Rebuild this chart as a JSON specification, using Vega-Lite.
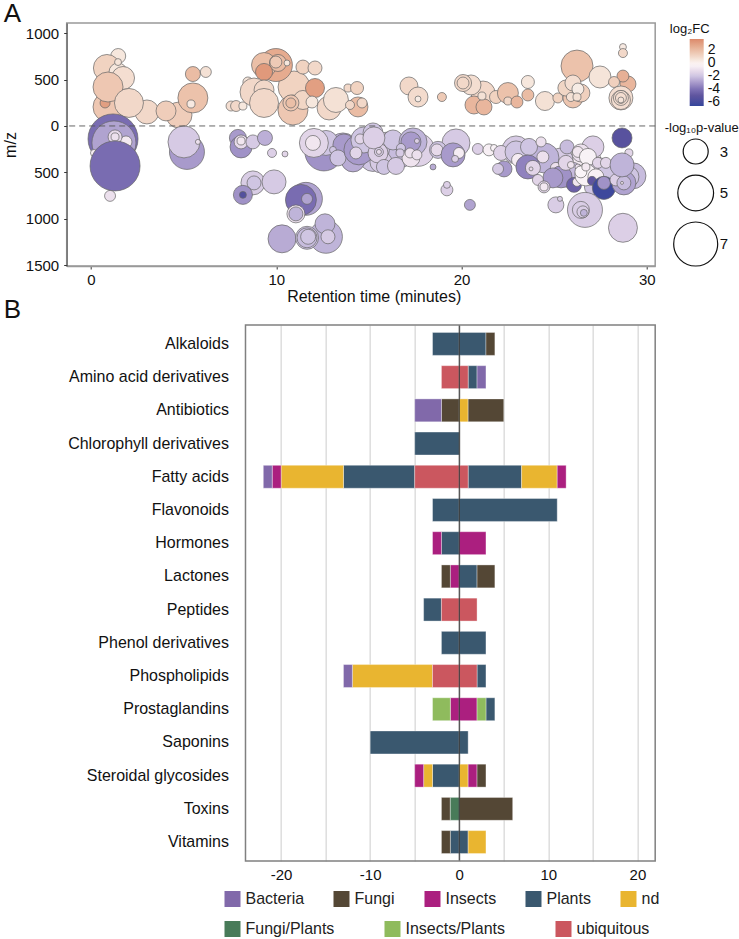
{"$schema":"https://vega.github.io/schema/vega-lite/v6.json","padding":{"left":0.7,"top":0,"right":0,"bottom":0},"spacing":59,"bounds":"flush","background":"white","config":{"font":"Liberation Sans","title":{"font":"Liberation Sans"},"axis":{"labelFont":"Liberation Sans","titleFont":"Liberation Sans"},"legend":{"labelFont":"Liberation Sans","titleFont":"Liberation Sans"}},"vconcat":[{"width":588.5,"height":243,"title":{"text":"A","anchor":"start","frame":"group","dx":-63,"offset":-4,"fontSize":26,"fontWeight":"normal","color":"#111"},"view":{"stroke":"#999","strokeWidth":1.5},"data":{"values":[{"t":1.47,"mz":754,"p":1.78,"fc":0.5},{"t":0.86,"mz":625,"p":3.32,"fc":1.2},{"t":1.46,"mz":582,"p":2.08,"fc":0.5},{"t":1.46,"mz":689,"p":1.24,"fc":0.6},{"t":1.73,"mz":517,"p":2.71,"fc":0.8},{"t":0.92,"mz":205,"p":3.84,"fc":1.6},{"t":0.76,"mz":248,"p":1.4,"fc":3},{"t":0.92,"mz":420,"p":3.84,"fc":1.6},{"t":3.02,"mz":151,"p":2.85,"fc":1},{"t":2.05,"mz":248,"p":3.66,"fc":1},{"t":4.75,"mz":118,"p":3.16,"fc":1.4},{"t":4.05,"mz":162,"p":2.31,"fc":1.4},{"t":5.5,"mz":302,"p":3.84,"fc":1.8},{"t":5.4,"mz":237,"p":1.29,"fc":0.4},{"t":5.5,"mz":560,"p":1.78,"fc":2},{"t":6.2,"mz":582,"p":1.46,"fc":0.7},{"t":10.96,"mz":420,"p":4.22,"fc":1.2},{"t":9.98,"mz":657,"p":4.41,"fc":2.6},{"t":9.34,"mz":657,"p":3,"fc":1.9},{"t":10.09,"mz":679,"p":1.98,"fc":2},{"t":9.98,"mz":689,"p":1.53,"fc":1.5},{"t":9.34,"mz":582,"p":1.98,"fc":3.2},{"t":10.58,"mz":679,"p":1.2,"fc":0.5},{"t":11.44,"mz":635,"p":1.69,"fc":1.2},{"t":12.09,"mz":625,"p":1.69,"fc":1},{"t":8.47,"mz":474,"p":1.4,"fc":0.6},{"t":7.56,"mz":215,"p":1.4,"fc":0.8},{"t":7.83,"mz":215,"p":1.46,"fc":1},{"t":8.2,"mz":215,"p":1.29,"fc":0.5},{"t":8.8,"mz":366,"p":3.48,"fc":1},{"t":9.34,"mz":388,"p":2.31,"fc":1},{"t":10.9,"mz":172,"p":3.84,"fc":1.6},{"t":9.34,"mz":248,"p":3.66,"fc":1},{"t":11.44,"mz":280,"p":2.2,"fc":1.1},{"t":10.79,"mz":248,"p":1.875,"fc":1.6},{"t":10.79,"mz":248,"p":1.4,"fc":1.9},{"t":12.09,"mz":409,"p":2.2,"fc":3},{"t":11.93,"mz":258,"p":1.53,"fc":0.5},{"t":12.85,"mz":194,"p":2.85,"fc":1},{"t":13.22,"mz":280,"p":3,"fc":0.7},{"t":13.87,"mz":409,"p":1.29,"fc":1},{"t":14.36,"mz":409,"p":1.61,"fc":1.2},{"t":14.41,"mz":205,"p":2.31,"fc":2},{"t":13.98,"mz":226,"p":1.34,"fc":1},{"t":14.63,"mz":248,"p":1.4,"fc":1},{"t":17.16,"mz":431,"p":2.08,"fc":1},{"t":17.65,"mz":312,"p":2.31,"fc":0.9},{"t":17.65,"mz":291,"p":1.2,"fc":0.3},{"t":18.94,"mz":312,"p":1.34,"fc":1.5},{"t":21.16,"mz":355,"p":2.85,"fc":1},{"t":20.51,"mz":442,"p":2.31,"fc":0.8},{"t":20.08,"mz":463,"p":1.98,"fc":1},{"t":20.08,"mz":463,"p":1.53,"fc":1},{"t":20.67,"mz":226,"p":2.08,"fc":2.2},{"t":21.21,"mz":205,"p":1.875,"fc":2.2},{"t":21.1,"mz":323,"p":1.29,"fc":0.7},{"t":21.86,"mz":312,"p":1.61,"fc":1.2},{"t":22.5,"mz":355,"p":2.44,"fc":1.8},{"t":22.5,"mz":269,"p":1.29,"fc":1},{"t":22.99,"mz":258,"p":1.53,"fc":2.2},{"t":23.58,"mz":474,"p":1.61,"fc":0.5},{"t":23.58,"mz":334,"p":1.53,"fc":2},{"t":24.5,"mz":269,"p":2.2,"fc":0.7},{"t":25.2,"mz":302,"p":1.4,"fc":1.2},{"t":26.23,"mz":646,"p":4.22,"fc":1.8},{"t":27.47,"mz":528,"p":2.57,"fc":0.6},{"t":26.01,"mz":302,"p":2.31,"fc":1.7},{"t":26.44,"mz":355,"p":2.08,"fc":1.3},{"t":25.63,"mz":409,"p":1.875,"fc":1.1},{"t":26.01,"mz":463,"p":1.875,"fc":0.8},{"t":26.28,"mz":398,"p":1.53,"fc":0.3},{"t":25.9,"mz":312,"p":1.34,"fc":0.7},{"t":26.23,"mz":312,"p":1.29,"fc":0.7},{"t":28.71,"mz":851,"p":1.24,"fc":0.4},{"t":28.71,"mz":786,"p":1.34,"fc":1},{"t":28.98,"mz":452,"p":1.875,"fc":2.2},{"t":28.71,"mz":538,"p":1.53,"fc":2.4},{"t":28.23,"mz":474,"p":1.46,"fc":1.3},{"t":28.6,"mz":302,"p":2.85,"fc":0.8},{"t":28.6,"mz":280,"p":2.2,"fc":0.8},{"t":28.6,"mz":302,"p":1.78,"fc":0.8},{"t":28.6,"mz":302,"p":1.46,"fc":0.8},{"t":28.6,"mz":280,"p":1.2,"fc":0.6},{"t":1.19,"mz":-140,"p":8.72,"fc":-4.2},{"t":1.24,"mz":-183,"p":7,"fc":-2.8},{"t":0.16,"mz":-291,"p":1.24,"fc":-0.6},{"t":1.89,"mz":-172,"p":1.53,"fc":-0.7},{"t":1.3,"mz":-118,"p":1.69,"fc":-1.2},{"t":1.3,"mz":-118,"p":1.29,"fc":-1},{"t":1.3,"mz":-431,"p":8.72,"fc":-4.2},{"t":1.03,"mz":-754,"p":1.46,"fc":-1},{"t":5.18,"mz":-280,"p":4.83,"fc":-3},{"t":5.02,"mz":-172,"p":4.22,"fc":-1.8},{"t":5.77,"mz":-172,"p":1.17,"fc":-1},{"t":7.93,"mz":-129,"p":1.98,"fc":-3},{"t":8.1,"mz":-226,"p":2.57,"fc":-3.2},{"t":8.1,"mz":-172,"p":1.69,"fc":-1.2},{"t":8.1,"mz":-162,"p":1.29,"fc":-0.8},{"t":8.74,"mz":-172,"p":1.69,"fc":-1.8},{"t":9.39,"mz":-129,"p":1.78,"fc":-2.5},{"t":9.77,"mz":-291,"p":1.34,"fc":-1.6},{"t":10.47,"mz":-302,"p":1.2,"fc":-1.4},{"t":8.74,"mz":-614,"p":2.85,"fc":-1.7},{"t":8.8,"mz":-614,"p":1.69,"fc":-2},{"t":9.88,"mz":-603,"p":2.85,"fc":-1.8},{"t":8.2,"mz":-743,"p":2.2,"fc":-3.2},{"t":8.2,"mz":-743,"p":1.24,"fc":-5.5},{"t":11.6,"mz":-786,"p":4.41,"fc":-2.8},{"t":11.33,"mz":-797,"p":4.02,"fc":-4.2},{"t":11.66,"mz":-786,"p":1.46,"fc":-2.8},{"t":11.06,"mz":-948,"p":2.08,"fc":-1},{"t":11.06,"mz":-948,"p":1.69,"fc":-2.4},{"t":10.31,"mz":-1217,"p":3.48,"fc":-2.6},{"t":12.68,"mz":-1195,"p":4.41,"fc":-2.4},{"t":12.63,"mz":-1055,"p":2.31,"fc":-2.4},{"t":12.79,"mz":-1195,"p":1.69,"fc":-1.8},{"t":11.66,"mz":-1206,"p":2.71,"fc":-2},{"t":11.66,"mz":-1206,"p":2.31,"fc":-2.2},{"t":11.72,"mz":-1195,"p":1.78,"fc":-2},{"t":13.6,"mz":-237,"p":3.84,"fc":-2.5},{"t":14.73,"mz":-258,"p":4.41,"fc":-2},{"t":15.22,"mz":-345,"p":3.32,"fc":-2},{"t":16.03,"mz":-226,"p":3.84,"fc":-1.8},{"t":17.65,"mz":-258,"p":4.41,"fc":-1.5},{"t":16.19,"mz":-334,"p":2.71,"fc":-2},{"t":16.73,"mz":-312,"p":3,"fc":-2.2},{"t":14.14,"mz":-366,"p":2.85,"fc":-2.6},{"t":15.65,"mz":-388,"p":2.57,"fc":-1.8},{"t":17,"mz":-205,"p":2.57,"fc":-2.2},{"t":12.57,"mz":-280,"p":5.5,"fc":-3.2},{"t":12.68,"mz":-183,"p":3,"fc":-2},{"t":12.03,"mz":-183,"p":3.66,"fc":-1.4},{"t":11.98,"mz":-183,"p":1.78,"fc":-0.8},{"t":13.65,"mz":-205,"p":2.57,"fc":-3},{"t":13.06,"mz":-258,"p":1.24,"fc":-2},{"t":13.33,"mz":-345,"p":1.875,"fc":-2},{"t":14.46,"mz":-258,"p":3.84,"fc":-3},{"t":14.73,"mz":-151,"p":3.16,"fc":-2},{"t":14.3,"mz":-291,"p":1.53,"fc":-1.4},{"t":15.22,"mz":-75,"p":2.31,"fc":-2},{"t":14.52,"mz":-140,"p":1.4,"fc":-1.4},{"t":16.3,"mz":-151,"p":2.31,"fc":-2},{"t":15.49,"mz":-291,"p":2.31,"fc":-1.6},{"t":15.27,"mz":-129,"p":2.57,"fc":-1.6},{"t":15.54,"mz":-280,"p":1.34,"fc":-1.8},{"t":15.54,"mz":-280,"p":1.17,"fc":-1.2},{"t":15.81,"mz":-442,"p":1.78,"fc":-2},{"t":16.46,"mz":-431,"p":1.98,"fc":-1.8},{"t":17.38,"mz":-172,"p":3.48,"fc":-2.4},{"t":17.27,"mz":-345,"p":2.08,"fc":-0.9},{"t":17.27,"mz":-172,"p":2.31,"fc":-3},{"t":17.59,"mz":-162,"p":1.17,"fc":-1.6},{"t":16.73,"mz":-237,"p":1.34,"fc":-2},{"t":16.68,"mz":-291,"p":1.29,"fc":-1.8},{"t":17.22,"mz":-291,"p":1.4,"fc":-1},{"t":17.59,"mz":-312,"p":1.4,"fc":-1},{"t":19.7,"mz":-183,"p":3.48,"fc":-1.8},{"t":18.73,"mz":-258,"p":1.98,"fc":-2},{"t":18.67,"mz":-258,"p":1.53,"fc":-1.2},{"t":19.54,"mz":-312,"p":2.85,"fc":-3},{"t":19.86,"mz":-291,"p":1.46,"fc":-0.6},{"t":19.65,"mz":-355,"p":1.24,"fc":-1.6},{"t":18.46,"mz":-442,"p":1.2,"fc":-2.6},{"t":20.88,"mz":-248,"p":1.46,"fc":-1.6},{"t":19.21,"mz":-689,"p":1.53,"fc":-1.6},{"t":19.21,"mz":-635,"p":1.24,"fc":-1.6},{"t":20.45,"mz":-851,"p":1.46,"fc":-2.8},{"t":22.94,"mz":-258,"p":3.48,"fc":-1.8},{"t":26.71,"mz":-366,"p":3.84,"fc":-0.7},{"t":27.5,"mz":-474,"p":2.85,"fc":-1.6},{"t":25.37,"mz":-366,"p":2.85,"fc":-1.8},{"t":25.9,"mz":-528,"p":3.16,"fc":-2.2},{"t":28.06,"mz":-528,"p":3.48,"fc":-2},{"t":29.25,"mz":-538,"p":3.16,"fc":-2.2},{"t":21.48,"mz":-258,"p":1.53,"fc":-0.5},{"t":21.75,"mz":-237,"p":1.24,"fc":-0.4},{"t":22.13,"mz":-291,"p":1.78,"fc":-1.5},{"t":22.94,"mz":-280,"p":2.57,"fc":-2},{"t":24.45,"mz":-345,"p":3.84,"fc":-2.4},{"t":23.64,"mz":-226,"p":1.98,"fc":-2},{"t":24.29,"mz":-172,"p":1.4,"fc":-1},{"t":24.39,"mz":-334,"p":1.53,"fc":-1},{"t":23.05,"mz":-366,"p":1.61,"fc":-0.6},{"t":22.29,"mz":-463,"p":1.875,"fc":-3},{"t":21.97,"mz":-463,"p":1.46,"fc":-1.8},{"t":23.58,"mz":-442,"p":2.85,"fc":-3.6},{"t":23.85,"mz":-452,"p":1.78,"fc":-1.4},{"t":23.75,"mz":-463,"p":1.14,"fc":-1.2},{"t":25.09,"mz":-452,"p":1.46,"fc":-1},{"t":25.37,"mz":-549,"p":2.57,"fc":-3.2},{"t":24.93,"mz":-560,"p":2.31,"fc":-3},{"t":24.12,"mz":-582,"p":1.46,"fc":-1.4},{"t":24.45,"mz":-657,"p":1.53,"fc":-1.4},{"t":24.45,"mz":-657,"p":1.29,"fc":-0.7},{"t":25.69,"mz":-226,"p":1.69,"fc":-2.2},{"t":26.07,"mz":-635,"p":1.78,"fc":-4.6},{"t":26.23,"mz":-603,"p":1.34,"fc":-0.8},{"t":27.09,"mz":-226,"p":2.57,"fc":-1.6},{"t":26.44,"mz":-291,"p":2.08,"fc":-1},{"t":26.28,"mz":-280,"p":1.46,"fc":-0.8},{"t":26.82,"mz":-334,"p":1.98,"fc":-0.4},{"t":25.63,"mz":-398,"p":1.78,"fc":-1.4},{"t":25.9,"mz":-420,"p":1.24,"fc":-0.9},{"t":26.28,"mz":-442,"p":1.2,"fc":-1},{"t":27.09,"mz":-657,"p":1.98,"fc":-2},{"t":26.71,"mz":-528,"p":2.57,"fc":-0.4},{"t":26.44,"mz":-495,"p":1.53,"fc":-0.3},{"t":27.36,"mz":-398,"p":1.46,"fc":-1.4},{"t":26.71,"mz":-442,"p":1.29,"fc":-0.7},{"t":27.25,"mz":-549,"p":1.875,"fc":-0.5},{"t":27.04,"mz":-592,"p":1.34,"fc":-5},{"t":27.79,"mz":-398,"p":1.46,"fc":-1.4},{"t":29.03,"mz":-291,"p":1.29,"fc":-1.4},{"t":27.68,"mz":-668,"p":2.71,"fc":-6.3},{"t":28.98,"mz":-549,"p":2.57,"fc":-2},{"t":28.76,"mz":-614,"p":2.85,"fc":-2.8},{"t":27.68,"mz":-614,"p":1.61,"fc":-3.2},{"t":28.33,"mz":-582,"p":1.53,"fc":-1.6},{"t":28.76,"mz":-614,"p":1.69,"fc":-2.2},{"t":28.66,"mz":-614,"p":1.12,"fc":-1},{"t":28.66,"mz":-420,"p":2.85,"fc":-2.4},{"t":28.66,"mz":-129,"p":2.31,"fc":-5.3},{"t":26.66,"mz":-905,"p":4.83,"fc":-1.7},{"t":26.44,"mz":-905,"p":1.98,"fc":-1.7},{"t":26.55,"mz":-926,"p":1.53,"fc":-1.7},{"t":26.6,"mz":-937,"p":1.24,"fc":-2.4},{"t":25.09,"mz":-851,"p":1.875,"fc":-1.7},{"t":25.31,"mz":-786,"p":1.17,"fc":-1.7},{"t":28.71,"mz":-1098,"p":3.66,"fc":-1.6}]},"layer":[{"mark":{"type":"point","filled":true,"shape":"circle","opacity":1,"stroke":"#666","strokeWidth":0.7},"encoding":{"x":{"field":"t","type":"quantitative","scale":{"domain":[-1.31,30.45],"nice":false,"zero":false},"axis":{"values":[0,10,20,30],"grid":false,"title":"Retention time (minutes)","titleFontSize":16,"titleFontWeight":"normal","titleColor":"#111","titlePadding":1,"titleX":307,"labelFontSize":15,"labelColor":"#111","labelPadding":3,"domainColor":"#999","domainWidth":1.5,"tickColor":"#333","tickSize":3}},"y":{"field":"mz","type":"quantitative","scale":{"domain":[-1510,1110],"nice":false,"zero":false},"axis":{"values":[-1500,-1000,-500,0,500,1000],"labelExpr":"abs(datum.value)","grid":false,"title":"m/z","titleFontSize":16,"titleFontWeight":"normal","titleColor":"#111","titlePadding":7,"labelFontSize":15,"labelColor":"#111","labelPadding":5,"domainColor":"#555","domainWidth":1,"tickColor":"#333","tickSize":3}},"size":{"field":"p","type":"quantitative","scale":{"type":"linear","domain":[3,7],"range":[625,1936],"zero":false},"legend":{"title":"-log₁₀p-value","values":[3,5,7],"orient":"none","legendX":598,"legendY":99,"titleFontSize":13,"titleFontWeight":"normal","titleColor":"#111","titlePadding":3,"labelFontSize":15,"labelColor":"#111","labelOffset":1,"rowPadding":5.5,"symbolOffset":8,"symbolFillColor":"white","symbolStrokeColor":"#111","symbolStrokeWidth":1.2,"symbolOpacity":1}},"fill":{"field":"fc","type":"quantitative","scale":{"domain":[-6.6,-5,-4,-2,-0.3,0.2,3.7],"range":["#33459b","#5f559f","#7f72b5","#cfc5e2","#faf5f8","#f8efe9","#dc8a6c"]},"legend":{"title":"log₂FC","values":[2,0,-2,-4,-6],"labelExpr":"''+datum.value","orient":"none","legendX":603,"legendY":0,"gradientLength":67,"gradientThickness":14,"labelOverlap":false,"titleFontSize":13,"titleFontWeight":"normal","titleColor":"#111","titlePadding":3,"titleAlign":"center","labelFontSize":14,"labelColor":"#111","labelOffset":4}}}},{"data":{"values":[{"base":0}]},"mark":{"type":"rule","stroke":"#555","strokeWidth":0.9,"strokeDash":[6,4]},"encoding":{"y":{"field":"base","type":"quantitative"}}}]},{"width":588.5,"height":536,"title":{"text":"B","anchor":"start","frame":"group","dx":-63,"offset":1,"fontSize":26,"fontWeight":"normal","color":"#111"},"view":{"stroke":null},"data":{"values":[{"compound":"Alkaloids","origin":"Plants","from":0,"to":-3},{"compound":"Alkaloids","origin":"Plants","from":0,"to":3},{"compound":"Alkaloids","origin":"Fungi","from":3,"to":4},{"compound":"Amino acid derivatives","origin":"ubiquitous","from":0,"to":-2},{"compound":"Amino acid derivatives","origin":"ubiquitous","from":0,"to":1},{"compound":"Amino acid derivatives","origin":"Plants","from":1,"to":2},{"compound":"Amino acid derivatives","origin":"Bacteria","from":2,"to":3},{"compound":"Antibiotics","origin":"Fungi","from":0,"to":-2},{"compound":"Antibiotics","origin":"Bacteria","from":-2,"to":-5},{"compound":"Antibiotics","origin":"nd","from":0,"to":1},{"compound":"Antibiotics","origin":"Fungi","from":1,"to":5},{"compound":"Chlorophyll derivatives","origin":"Plants","from":0,"to":-5},{"compound":"Fatty acids","origin":"ubiquitous","from":0,"to":-5},{"compound":"Fatty acids","origin":"Plants","from":-5,"to":-13},{"compound":"Fatty acids","origin":"nd","from":-13,"to":-20},{"compound":"Fatty acids","origin":"Insects","from":-20,"to":-21},{"compound":"Fatty acids","origin":"Bacteria","from":-21,"to":-22},{"compound":"Fatty acids","origin":"ubiquitous","from":0,"to":1},{"compound":"Fatty acids","origin":"Plants","from":1,"to":7},{"compound":"Fatty acids","origin":"nd","from":7,"to":11},{"compound":"Fatty acids","origin":"Insects","from":11,"to":12},{"compound":"Flavonoids","origin":"Plants","from":0,"to":-3},{"compound":"Flavonoids","origin":"Plants","from":0,"to":11},{"compound":"Hormones","origin":"Plants","from":0,"to":-2},{"compound":"Hormones","origin":"Insects","from":-2,"to":-3},{"compound":"Hormones","origin":"Insects","from":0,"to":3},{"compound":"Lactones","origin":"Insects","from":0,"to":-1},{"compound":"Lactones","origin":"Fungi","from":-1,"to":-2},{"compound":"Lactones","origin":"Plants","from":0,"to":2},{"compound":"Lactones","origin":"Fungi","from":2,"to":4},{"compound":"Peptides","origin":"ubiquitous","from":0,"to":-2},{"compound":"Peptides","origin":"Plants","from":-2,"to":-4},{"compound":"Peptides","origin":"ubiquitous","from":0,"to":2},{"compound":"Phenol derivatives","origin":"Plants","from":0,"to":-2},{"compound":"Phenol derivatives","origin":"Plants","from":0,"to":3},{"compound":"Phospholipids","origin":"ubiquitous","from":0,"to":-3},{"compound":"Phospholipids","origin":"nd","from":-3,"to":-12},{"compound":"Phospholipids","origin":"Bacteria","from":-12,"to":-13},{"compound":"Phospholipids","origin":"ubiquitous","from":0,"to":2},{"compound":"Phospholipids","origin":"Plants","from":2,"to":3},{"compound":"Prostaglandins","origin":"Insects","from":0,"to":-1},{"compound":"Prostaglandins","origin":"Insects/Plants","from":-1,"to":-3},{"compound":"Prostaglandins","origin":"Insects","from":0,"to":2},{"compound":"Prostaglandins","origin":"Insects/Plants","from":2,"to":3},{"compound":"Prostaglandins","origin":"Plants","from":3,"to":4},{"compound":"Saponins","origin":"Plants","from":0,"to":-10},{"compound":"Saponins","origin":"Plants","from":0,"to":1},{"compound":"Steroidal glycosides","origin":"Plants","from":0,"to":-3},{"compound":"Steroidal glycosides","origin":"nd","from":-3,"to":-4},{"compound":"Steroidal glycosides","origin":"Insects","from":-4,"to":-5},{"compound":"Steroidal glycosides","origin":"nd","from":0,"to":1},{"compound":"Steroidal glycosides","origin":"Insects","from":1,"to":2},{"compound":"Steroidal glycosides","origin":"Fungi","from":2,"to":3},{"compound":"Toxins","origin":"Fungi/Plants","from":0,"to":-1},{"compound":"Toxins","origin":"Fungi","from":-1,"to":-2},{"compound":"Toxins","origin":"Fungi","from":0,"to":6},{"compound":"Vitamins","origin":"Plants","from":0,"to":-1},{"compound":"Vitamins","origin":"Fungi","from":-1,"to":-2},{"compound":"Vitamins","origin":"Plants","from":0,"to":1},{"compound":"Vitamins","origin":"nd","from":1,"to":3}]},"layer":[{"transform":[{"filter":{"field":"origin","oneOf":["Bacteria","Fungi","Insects","Plants","nd"]}}],"mark":{"type":"bar","stroke":"#ffffff","strokeOpacity":0.35,"strokeWidth":1},"encoding":{"y":{"field":"compound","type":"nominal","scale":{"domain":["Alkaloids","Amino acid derivatives","Antibiotics","Chlorophyll derivatives","Fatty acids","Flavonoids","Hormones","Lactones","Peptides","Phenol derivatives","Phospholipids","Prostaglandins","Saponins","Steroidal glycosides","Toxins","Vitamins"],"paddingInner":0.31,"paddingOuter":0.225},"axis":{"title":null,"domain":false,"ticks":false,"offset":-178.8,"labelFontSize":16,"labelColor":"#111","labelPadding":17,"labelLimit":300}},"x":{"field":"from","type":"quantitative","scale":{"domain":[-24,22],"range":[178.8,588.5],"nice":false,"zero":false},"axis":{"values":[-20,-15,-10,-5,0,5,10,15,20],"labelExpr":"datum.value % 10 == 0 ? datum.value : ''","grid":true,"gridColor":"#dddddd","gridWidth":1.5,"ticks":false,"domain":false,"title":null,"labelFontSize":15,"labelColor":"#111","labelPadding":7}},"x2":{"field":"to"},"color":{"field":"origin","type":"nominal","scale":{"domain":["Bacteria","Fungi","Insects","Plants","nd"],"range":["#8169aa","#544735","#ab1f7f","#3a586f","#e9b530"]},"legend":{"title":null,"orient":"none","legendX":157.8,"legendY":566,"direction":"horizontal","columns":5,"columnPadding":29,"symbolType":"square","symbolSize":256,"labelFontSize":16,"labelColor":"#222","labelOffset":5,"symbolStrokeWidth":0}}}},{"transform":[{"filter":{"field":"origin","oneOf":["Fungi/Plants","Insects/Plants","ubiquitous"]}}],"mark":{"type":"bar","stroke":"#ffffff","strokeOpacity":0.35,"strokeWidth":1},"encoding":{"y":{"field":"compound","type":"nominal"},"x":{"field":"from","type":"quantitative"},"x2":{"field":"to"},"color":{"field":"origin","type":"nominal","scale":{"domain":["Fungi/Plants","Insects/Plants","ubiquitous"],"range":["#487b59","#8fbb5d","#cb575f"]},"legend":{"title":null,"orient":"none","legendX":157.8,"legendY":596,"direction":"horizontal","columns":3,"columnPadding":50,"symbolType":"square","symbolSize":256,"labelFontSize":16,"labelColor":"#222","labelOffset":5,"symbolStrokeWidth":0}}}},{"data":{"values":[{"zero":0}]},"mark":{"type":"rule","stroke":"#222","strokeWidth":1},"encoding":{"x":{"field":"zero","type":"quantitative"}}},{"data":{"values":[{"left":-24,"right":22}]},"mark":{"type":"rect","fillOpacity":0,"stroke":"#808080","strokeWidth":1.5},"encoding":{"x":{"field":"left","type":"quantitative"},"x2":{"field":"right"}}}],"resolve":{"scale":{"color":"independent"},"legend":{"color":"independent"}}}]}
